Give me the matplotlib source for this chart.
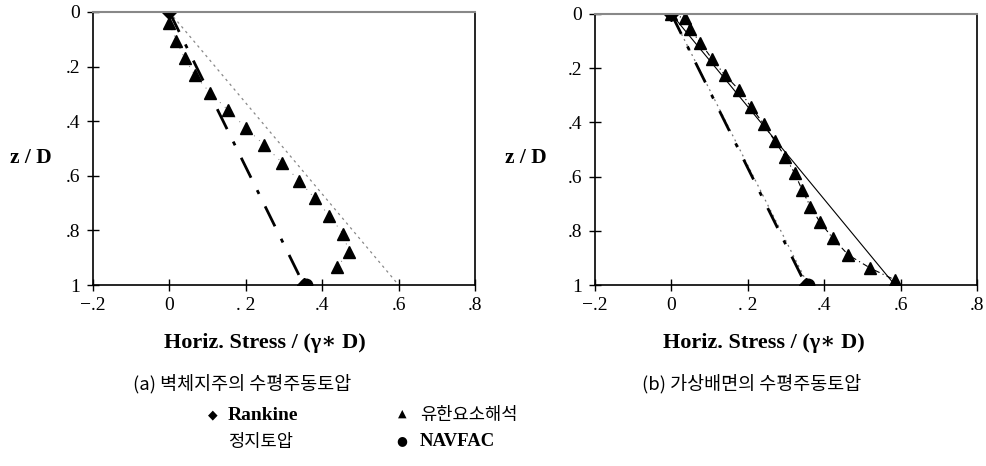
import matplotlib
matplotlib.use("Agg")
import matplotlib.pyplot as plt

SERIF = ["Liberation Serif", "DejaVu Serif"]
KR = ["Noto Sans CJK KR", "DejaVu Sans"]

# (a) 벽체지주 - 유한요소해석 결과
fem_a_x = [0.0, 0.018, 0.04, 0.067, 0.106, 0.153, 0.2, 0.248, 0.295, 0.34,
           0.381, 0.419, 0.455, 0.47, 0.439]
fem_a_z = [0.04, 0.105, 0.17, 0.232, 0.295, 0.359, 0.424, 0.487, 0.552, 0.619,
           0.683, 0.747, 0.813, 0.88, 0.933]

# (b) 가상배면 - 유한요소해석 결과
fem_b_x = [0.0, 0.035, 0.05, 0.076, 0.107, 0.14, 0.177, 0.209, 0.242, 0.27,
           0.298, 0.323, 0.342, 0.364, 0.388, 0.423, 0.463, 0.521, 0.586]
fem_b_z = [0.0, 0.016, 0.057, 0.106, 0.167, 0.225, 0.28, 0.344, 0.407, 0.467,
           0.527, 0.588, 0.649, 0.711, 0.766, 0.828, 0.889, 0.938, 0.982]

# 이론해 (z/D = 0, 1)
depth = [0.0, 1.0]
rankine_x = [0.0, 0.352]
navfac_x = [0.0, 0.358]
atrest_a_x = [0.0, 0.6]
atrest_b_x = [0.0, 0.585]

xticks = [-0.2, 0.0, 0.2, 0.4, 0.6, 0.8]
xtick_labels = ["\u2212.2", "0", ". 2", ".4", ".6", ".8"]
yticks = [0.0, 0.2, 0.4, 0.6, 0.8, 1.0]
ytick_labels = ["0", ".2", ".4", ".6", ".8", "1"]

fig = plt.figure(figsize=(9.87, 4.66), dpi=100)
W, H = 987, 466


def make_axes(x0, x1, y0, y1):
    return fig.add_axes([x0 / W, 1 - y1 / H, (x1 - x0) / W, (y1 - y0) / H])


ax_a = make_axes(93, 475, 12, 285)
ax_b = make_axes(595, 977, 14, 285)

for ax in (ax_a, ax_b):
    ax.set_xlim(-0.2, 0.8)
    ax.set_ylim(1.0, 0.0)
    ax.set_xticks(xticks)
    ax.set_xticklabels(xtick_labels, fontfamily=SERIF, fontsize=14)
    ax.set_yticks(yticks)
    ax.set_yticklabels(ytick_labels, fontfamily=SERIF, fontsize=14)
    ax.tick_params(direction="inout", length=8, width=1, pad=5)
    for side in ("left", "bottom", "right"):
        ax.spines[side].set_linewidth(1.2)
    ax.spines["top"].set_color("#888888")
    ax.spines["top"].set_linewidth(1.5)

# (a) 벽체지주
ax_a.plot(atrest_a_x, depth, color="#888888", lw=0.9, ls=(0, (2, 3)))
ax_a.plot(rankine_x, depth, color="black", lw=2.0, ls=(0, (8, 5, 1.5, 5)))
ax_a.plot(fem_a_x, fem_a_z, color="#777777", lw=0.7, ls=(0, (1, 6)),
          marker="^", ms=9, mfc="black", mec="black")
ax_a.plot([rankine_x[0]], [depth[0]], "D", color="black", ms=7)
ax_a.plot([navfac_x[1]], [depth[1]], "o", color="black", ms=9)
ax_a.plot([rankine_x[1]], [depth[1]], "D", color="black", ms=7)

# (b) 가상배면
ax_b.plot(atrest_b_x, depth, color="black", lw=0.8)
ax_b.plot(navfac_x, depth, color="#777777", lw=0.9, ls=(0, (1.5, 3)))
ax_b.plot(rankine_x, depth, color="black", lw=2.0, ls=(0, (8, 5, 1.5, 5)))
ax_b.plot(fem_b_x, fem_b_z, color="black", lw=0.8, ls=(0, (5, 3, 1, 3)),
          marker="^", ms=9, mfc="black", mec="black")
ax_b.plot([rankine_x[0]], [depth[0]], "D", color="black", ms=7)
ax_b.plot([navfac_x[1]], [depth[1]], "o", color="black", ms=9)
ax_b.plot([rankine_x[1]], [depth[1]], "D", color="black", ms=7)

# 축 제목
for xc in (31, 526):
    fig.text(xc / W, 1 - 158 / H, "z / D", ha="center", va="center",
             fontfamily=SERIF, fontsize=15.5, fontweight="bold")
for xc in (265, 764):
    fig.text(xc / W, 1 - 343 / H, "Horiz. Stress / (\u03b3\u2217 D)", ha="center",
             va="center", fontfamily=SERIF, fontsize=16, fontweight="bold")

fig.text(242 / W, 1 - 384 / H, "(a) 벽체지주의 수평주동토압", ha="center",
         va="center", fontfamily=KR, fontsize=13.3)
fig.text(752 / W, 1 - 384 / H, "(b) 가상배면의 수평주동토압", ha="center",
         va="center", fontfamily=KR, fontsize=13.3)

# 범례
fig.text(213 / W, 1 - 415 / H, "\u25c6", ha="center", va="center",
         fontfamily=["DejaVu Sans"], fontsize=9)
fig.text(228 / W, 1 - 415 / H, "Rankine", ha="left", va="center",
         fontfamily=SERIF, fontsize=14, fontweight="bold")
fig.text(402 / W, 1 - 414 / H, "\u25b2", ha="center", va="center",
         fontfamily=["DejaVu Sans"], fontsize=8)
fig.text(420 / W, 1 - 415 / H, "유한요소해석", ha="left", va="center",
         fontfamily=KR, fontsize=12.7)
fig.text(228 / W, 1 - 442 / H, "정지토압", ha="left", va="center",
         fontfamily=KR, fontsize=12.7)
fig.text(402 / W, 1 - 441 / H, "\u25cf", ha="center", va="center",
         fontfamily=["DejaVu Sans"], fontsize=9)
fig.text(420 / W, 1 - 442 / H, "NAVFAC", ha="left", va="center",
         fontfamily=SERIF, fontsize=13.5, fontweight="bold")

fig.savefig("out.png", dpi=100)
